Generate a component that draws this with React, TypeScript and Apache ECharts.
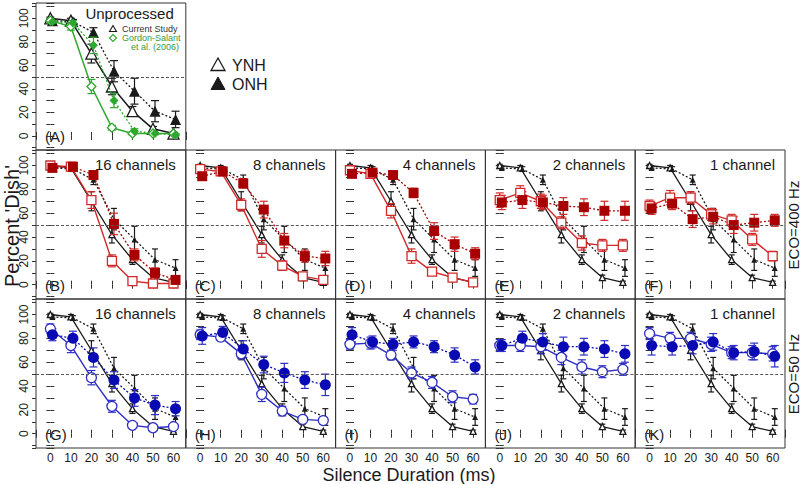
import React, { useEffect, useRef } from 'react';
import * as echarts from 'echarts';

// ---------------- data ----------------
const silence = [0, 10, 20, 30, 40, 50, 60];
const FILLED_SHIFT = 1;
const xTickLabels = [0, 10, 20, 30, 40, 50, 60];
const yTickLabels = [0, 20, 40, 60, 80, 100];

// Current study (black)
const ynhCurrent = [100, 98, 70, 42, 21, 6, 2];
const ynhCurrentErr = [1, 2, 8, 7, 4, 2, 1];
const onhCurrent = [98, 97, 88, 55, 38, 21, 14];
const onhCurrentErr = [1, 2, 4, 9, 11, 9, 7];

// Gordon-Salant et al. (2006) (green)
const ynhGordon = [98, 93, 42, 7, 2, 2, 2];
const ynhGordonErr = [2, 3, 6, 2, 1, 1, 1];
const onhGordon = [97, 96, 77, 30, 4, 2, 1];
const onhGordonErr = [1, 2, 7, 6, 2, 1, 1];

const channelTitles = ['16 channels', '8 channels', '4 channels', '2 channels', '1 channel'];
const eco400Letters = ['(B)', '(C)', '(D)', '(E)', '(F)'];
const eco50Letters = ['(G)', '(H)', '(I)', '(J)', '(K)'];

// ECO = 400 Hz (red squares)
const ynhEco400 = [
  [100, 99, 71, 20, 3, 1, 1],
  [97, 95, 67, 30, 16, 7, 4],
  [96, 93, 62, 24, 11, 6, 2],
  [71, 77, 70, 52, 35, 33, 33],
  [66, 73, 73, 59, 54, 38, 24],
];
const ynhEco400Err = [
  [1, 1, 7, 5, 1, 1, 1],
  [2, 2, 5, 7, 4, 1, 2],
  [2, 3, 6, 6, 3, 2, 1],
  [6, 6, 6, 5, 6, 5, 5],
  [5, 6, 5, 5, 5, 5, 4],
];
const onhEco400 = [
  [98, 99, 92, 51, 25, 10, 4],
  [91, 95, 85, 63, 37, 24, 22],
  [93, 94, 92, 77, 45, 34, 26],
  [69, 71, 69, 66, 65, 62, 62],
  [64, 68, 55, 57, 50, 52, 54],
];
const onhEco400Err = [
  [1, 1, 3, 9, 5, 4, 3],
  [3, 2, 4, 7, 6, 5, 6],
  [3, 2, 3, 4, 7, 6, 5],
  [6, 7, 6, 7, 7, 8, 8],
  [5, 5, 7, 6, 7, 7, 5],
];

// ECO = 50 Hz (blue circles)
const ynhEco50 = [
  [88, 74, 47, 23, 7, 5, 6],
  [83, 81, 67, 33, 19, 12, 11],
  [75, 76, 66, 51, 43, 31, 29],
  [74, 74, 73, 64, 56, 52, 54],
  [84, 80, 80, 75, 68, 68, 67],
];
const ynhEco50Err = [
  [4, 6, 6, 5, 1, 1, 2],
  [4, 3, 4, 6, 4, 3, 3],
  [4, 5, 4, 5, 5, 5, 4],
  [5, 5, 6, 6, 6, 5, 5],
  [5, 5, 5, 6, 5, 6, 6],
];
const onhEco50 = [
  [83, 80, 64, 45, 30, 24, 21],
  [82, 85, 71, 58, 51, 45, 41],
  [83, 77, 75, 77, 73, 66, 56],
  [74, 80, 77, 73, 73, 71, 67],
  [74, 73, 74, 77, 68, 69, 65],
];
const onhEco50Err = [
  [5, 6, 8, 7, 7, 8, 6],
  [7, 5, 7, 7, 8, 7, 9],
  [6, 5, 5, 5, 5, 6, 6],
  [5, 6, 7, 8, 7, 7, 7],
  [8, 7, 7, 7, 6, 7, 9],
];

// ---------------- style / layout ----------------
const FONT = '"Liberation Sans", Arial, Helvetica, sans-serif';
const GRID_X0 = 36;
const COL_W = 149.8;
const ROW_TOP = [1, 150, 299];
const ROW_H = 149;
const X_MIN = -7;
const X_MAX = 66;
const Y_MIN = -12;
const Y_MAX = 113;
const INK = '#1a1a1a';
const AXIS = '#333';
const RED_OPEN = '#d02a2a';
const RED_FILL = '#a80000';
const BLUE_OPEN = '#2e2ec4';
const BLUE_FILL = '#0a0ab4';
const GREEN = '#2fa82f';

const shifted = silence.map((x) => x + FILLED_SHIFT);

function pairs(xs: number[], ys: number[]) {
  return ys.map((v, i) => [xs[i], v]);
}

function lineSeries(gi: number, xs: number[], ys: number[], o: any) {
  return {
    type: 'line',
    xAxisIndex: gi * 2,
    yAxisIndex: gi * 3,
    data: pairs(xs, ys),
    symbol: o.symbol,
    symbolSize: o.size,
    showSymbol: true,
    silent: true,
    clip: false,
    z: o.z,
    lineStyle: { color: o.color, width: o.width ?? 1.3, type: o.dash ? [2, 2] : 'solid' },
    itemStyle: { color: o.open ? '#ffffff' : o.color, borderColor: o.color, borderWidth: o.open ? 1.3 : 0 },
    emphasis: { disabled: true },
    markLine: o.markLine,
  };
}

function errorSeries(gi: number, xs: number[], ys: number[], errs: number[], color: string, z: number, cap = 4) {
  return {
    type: 'custom',
    xAxisIndex: gi * 2,
    yAxisIndex: gi * 3,
    silent: true,
    z,
    data: ys.map((v, i) => [xs[i], v - errs[i], v + errs[i]]),
    encode: { x: 0, y: [1, 2] },
    renderItem: (_p: any, api: any) => {
      const x = api.value(0);
      const lo = api.coord([x, api.value(1)]);
      const hi = api.coord([x, api.value(2)]);
      const st = { stroke: color, lineWidth: 1.2, fill: 'none' };
      return {
        type: 'group',
        children: [
          { type: 'line', shape: { x1: lo[0], y1: lo[1], x2: hi[0], y2: hi[1] }, style: st },
          { type: 'line', shape: { x1: lo[0] - cap, y1: lo[1], x2: lo[0] + cap, y2: lo[1] }, style: st },
          { type: 'line', shape: { x1: hi[0] - cap, y1: hi[1], x2: hi[0] + cap, y2: hi[1] }, style: st },
        ],
      };
    },
  };
}

const halfLine = {
  silent: true,
  symbol: ['none', 'none'],
  label: { show: false },
  lineStyle: { color: '#555', width: 1, type: [3, 2] },
  data: [{ yAxis: 50 }],
};

function buildOption() {
  const grid: any[] = [];
  const xAxis: any[] = [];
  const yAxis: any[] = [];
  const series: any[] = [];
  const graphic: any[] = [];

  const panels: any[] = [{ row: 0, col: 0, title: 'Unprocessed', letter: '(A)', kind: 'A' }];
  for (let c = 0; c < 5; c++) {
    panels.push({
      row: 1, col: c, title: channelTitles[c], letter: eco400Letters[c],
      open: ynhEco400[c], openErr: ynhEco400Err[c], filled: onhEco400[c], filledErr: onhEco400Err[c],
      cOpen: RED_OPEN, cFill: RED_FILL, symbol: 'rect', sizeOpen: 9, sizeFill: 10,
    });
  }
  for (let c = 0; c < 5; c++) {
    panels.push({
      row: 2, col: c, title: channelTitles[c], letter: eco50Letters[c],
      open: ynhEco50[c], openErr: ynhEco50Err[c], filled: onhEco50[c], filledErr: onhEco50Err[c],
      cOpen: BLUE_OPEN, cFill: BLUE_FILL, symbol: 'circle', sizeOpen: 10, sizeFill: 11,
    });
  }

  const tick = { show: true, inside: true, length: 4, lineStyle: { color: AXIS, width: 1 } };

  panels.forEach((p, gi) => {
    const left = GRID_X0 + p.col * COL_W;
    const top = ROW_TOP[p.row];
    grid.push({ left, top, width: COL_W, height: ROW_H, show: true, borderColor: AXIS, borderWidth: 1, backgroundColor: 'transparent' });

    const isBottom = p.row === 2;
    const isLeft = p.col === 0;
    const xBase = {
      gridIndex: gi, type: 'value', min: X_MIN, max: X_MAX, minInterval: 10, maxInterval: 10,
      axisLine: { show: false }, splitLine: { show: false }, axisTick: tick,
    };
    xAxis.push({
      ...xBase, position: 'bottom',
      axisLabel: {
        show: isBottom, margin: 4, fontSize: 12, color: INK, fontFamily: FONT,
        formatter: (v: number) => (xTickLabels.includes(v) ? String(v) : ''),
      },
    });
    xAxis.push({ ...xBase, position: 'top', axisLabel: { show: false } });

    const yBase = {
      gridIndex: gi, type: 'value', min: Y_MIN, max: Y_MAX, minInterval: 10, maxInterval: 10,
      axisLine: { show: false }, splitLine: { show: false },
    };
    yAxis.push({ ...yBase, position: 'left', axisTick: tick, axisLabel: { show: false } });
    yAxis.push({ ...yBase, position: 'right', axisTick: tick, axisLabel: { show: false } });
    yAxis.push({
      ...yBase, position: 'left', show: isLeft,
      axisTick: { show: true, inside: false, length: 4, lineStyle: { color: AXIS, width: 1 } },
      axisLabel: {
        show: isLeft, rotate: 90, margin: 6, fontSize: 12, color: INK, fontFamily: FONT,
        formatter: (v: number) => (yTickLabels.includes(v) ? String(v) : ''),
      },
    });

    // title + panel letter
    graphic.push({
      type: 'text', x: left + COL_W - (p.kind === 'A' ? 12 : 10), y: top + (p.kind === 'A' ? 12 : 14), silent: true,
      style: { text: p.title, fontSize: 15, fontFamily: FONT, fill: INK, align: 'right', verticalAlign: 'middle' },
    });
    graphic.push({
      type: 'text', x: left + 9, y: top + ROW_H - 14, silent: true,
      style: { text: p.letter, fontSize: 15, fontFamily: FONT, fill: INK, align: 'left', verticalAlign: 'middle' },
    });

    if (p.kind === 'A') {
      series.push(lineSeries(gi, silence, ynhCurrent, { symbol: 'triangle', size: 11, color: INK, open: true, z: 3, width: 1.5, markLine: halfLine }));
      series.push(errorSeries(gi, silence, ynhCurrent, ynhCurrentErr, INK, 2));
      series.push(lineSeries(gi, shifted, onhCurrent, { symbol: 'triangle', size: 11, color: INK, open: false, dash: true, z: 3 }));
      series.push(errorSeries(gi, shifted, onhCurrent, onhCurrentErr, INK, 2));
      series.push(errorSeries(gi, silence, ynhGordon, ynhGordonErr, GREEN, 4));
      series.push(lineSeries(gi, silence, ynhGordon, { symbol: 'diamond', size: 9, color: GREEN, open: true, z: 5, width: 1.5 }));
      series.push(errorSeries(gi, shifted, onhGordon, onhGordonErr, GREEN, 4));
      series.push(lineSeries(gi, shifted, onhGordon, { symbol: 'diamond', size: 9, color: GREEN, open: false, dash: true, z: 5 }));
    } else {
      series.push(lineSeries(gi, silence, ynhCurrent, { symbol: 'triangle', size: 6, color: INK, open: true, z: 2, width: 1.3, markLine: halfLine }));
      series.push(errorSeries(gi, silence, ynhCurrent, ynhCurrentErr, INK, 2, 3));
      series.push(lineSeries(gi, shifted, onhCurrent, { symbol: 'triangle', size: 6, color: INK, open: false, dash: true, z: 2 }));
      series.push(errorSeries(gi, shifted, onhCurrent, onhCurrentErr, INK, 2, 3));
      series.push(errorSeries(gi, silence, p.open, p.openErr, p.cOpen, 3));
      series.push(lineSeries(gi, silence, p.open, { symbol: p.symbol, size: p.sizeOpen, color: p.cOpen, open: true, z: 4, width: 1.4 }));
      series.push(errorSeries(gi, shifted, p.filled, p.filledErr, p.cOpen, 3));
      series.push(lineSeries(gi, shifted, p.filled, { symbol: p.symbol, size: p.sizeFill, color: p.cFill, open: false, dash: true, z: 4, width: 1.3 }));
    }
  });

  // legend inside panel A
  const small = 9;
  graphic.push({ type: 'polygon', silent: true, shape: { points: [[109.5, 31.5], [116.5, 31.5], [113, 25.5]] }, style: { fill: 'none', stroke: INK, lineWidth: 1.1 } });
  graphic.push({ type: 'text', x: 122, y: 29, silent: true, style: { text: 'Current Study', fontSize: small, fontFamily: FONT, fill: '#333', verticalAlign: 'middle' } });
  graphic.push({ type: 'polygon', silent: true, shape: { points: [[113, 34.5], [116.5, 38], [113, 41.5], [109.5, 38]] }, style: { fill: 'none', stroke: GREEN, lineWidth: 1.1 } });
  graphic.push({ type: 'text', x: 122, y: 38, silent: true, style: { text: 'Gordon-Salant', fontSize: small, fontFamily: FONT, fill: '#3a9a3a', verticalAlign: 'middle' } });
  graphic.push({ type: 'text', x: 155, y: 47, silent: true, style: { text: 'et al. (2006)', fontSize: small, fontFamily: FONT, fill: '#3a9a3a', align: 'center', verticalAlign: 'middle' } });

  // YNH / ONH legend
  graphic.push({ type: 'polygon', silent: true, shape: { points: [[211, 70.5], [225, 70.5], [218, 58]] }, style: { fill: 'none', stroke: INK, lineWidth: 1.3 } });
  graphic.push({ type: 'text', x: 232, y: 65, silent: true, style: { text: 'YNH', fontSize: 16, fontFamily: FONT, fill: INK, verticalAlign: 'middle' } });
  graphic.push({ type: 'polygon', silent: true, shape: { points: [[211, 89.5], [225, 89.5], [218, 77]] }, style: { fill: INK, stroke: INK, lineWidth: 1 } });
  graphic.push({ type: 'text', x: 232, y: 84, silent: true, style: { text: 'ONH', fontSize: 16, fontFamily: FONT, fill: INK, verticalAlign: 'middle' } });

  // axis titles
  graphic.push({ type: 'text', x: 12, y: 226, rotation: Math.PI / 2, silent: true, style: { text: "Percent 'Dish'", fontSize: 20, fontFamily: FONT, fill: INK, align: 'center', verticalAlign: 'middle' } });
  graphic.push({ type: 'text', x: 409, y: 475, silent: true, style: { text: 'Silence Duration (ms)', fontSize: 18, fontFamily: FONT, fill: INK, align: 'center', verticalAlign: 'middle' } });
  graphic.push({ type: 'text', x: 793, y: 225, rotation: Math.PI / 2, silent: true, style: { text: 'ECO=400 Hz', fontSize: 15, fontFamily: FONT, fill: INK, align: 'center', verticalAlign: 'middle' } });
  graphic.push({ type: 'text', x: 793, y: 374, rotation: Math.PI / 2, silent: true, style: { text: 'ECO=50 Hz', fontSize: 15, fontFamily: FONT, fill: INK, align: 'center', verticalAlign: 'middle' } });

  return {
    animation: false,
    backgroundColor: '#ffffff',
    textStyle: { fontFamily: FONT },
    grid,
    xAxis,
    yAxis,
    series,
    graphic,
  };
}

export default function App() {
  const ref = useRef<HTMLDivElement>(null);
  useEffect(() => {
    if (!ref.current) return;
    const chart = echarts.init(ref.current, null, { renderer: 'svg' });
    chart.setOption(buildOption() as any);
    return () => chart.dispose();
  }, []);
  return (
    <div
      ref={ref}
      style={{ position: 'absolute', left: 0, top: 0, width: 800, height: 484, background: '#fff' }}
    />
  );
}
